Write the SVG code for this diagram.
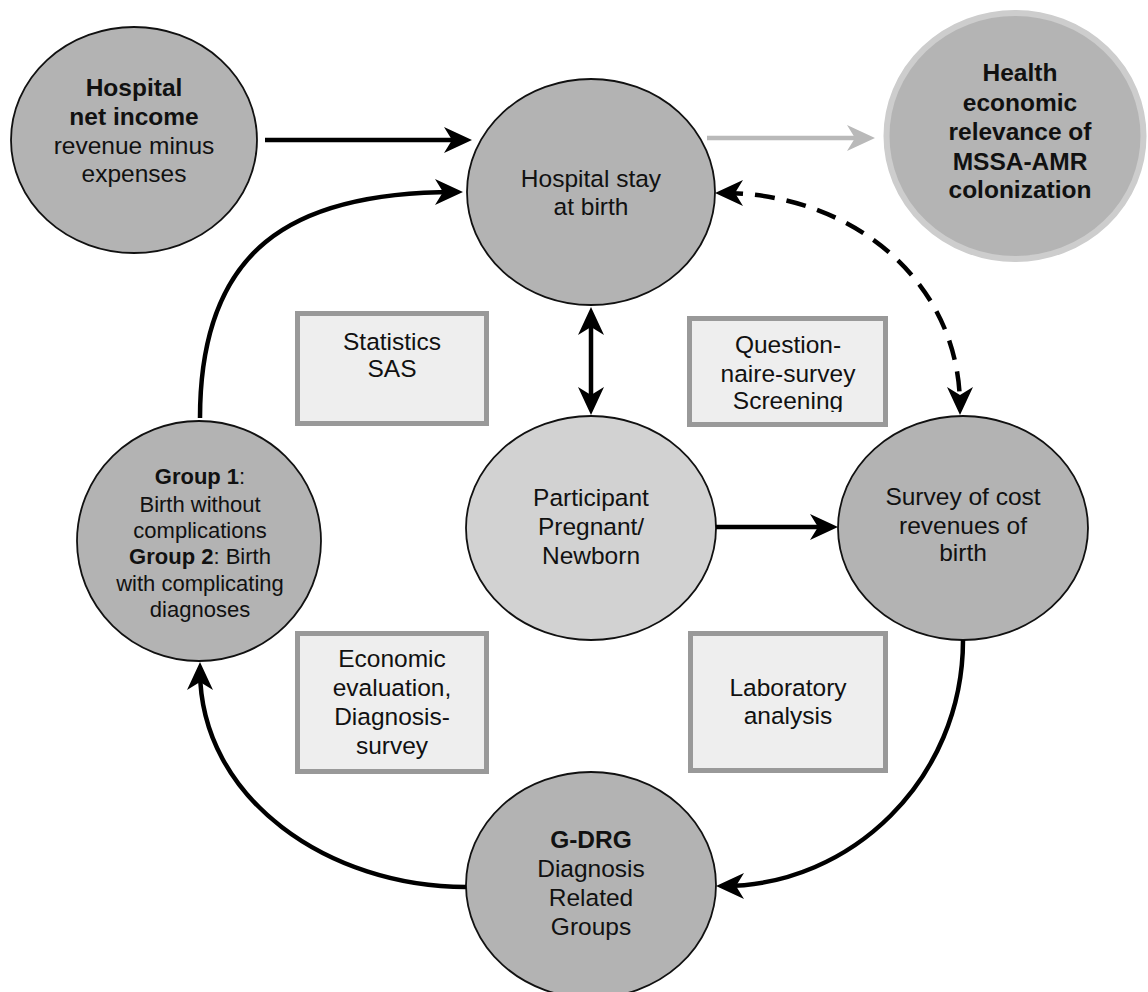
<svg xmlns="http://www.w3.org/2000/svg" width="1148" height="992" viewBox="0 0 1148 992">
  <style>
    .node { fill: #b3b3b3; stroke: #111; stroke-width: 1.8; }
    .light { fill: #d2d2d2; }
    .ring { fill: #b4b4b4; stroke: #cdcdcd; stroke-width: 6; }
    .box { fill: #eeeeee; stroke: #999999; stroke-width: 5; }
    text { font-family: "Liberation Sans", Arial, sans-serif; fill: #111; text-anchor: middle; }
    .t { font-size: 24.5px; }
    .s { font-size: 22px; }
    .b { font-weight: bold; }
    .link { fill: none; stroke: #000; stroke-width: 4.5; }
    .dash { stroke-dasharray: 20 12; }
    .grey { stroke: #b9b9b9; }
  </style>
  <defs>
    <marker id="ah" viewBox="0 0 28 28" refX="20" refY="14" markerWidth="28" markerHeight="28" markerUnits="userSpaceOnUse" orient="auto-start-reverse">
      <path d="M28,14 L0,1 L8,14 L0,27 Z" fill="#000"/>
    </marker>
    <marker id="ahGrey" viewBox="0 0 28 28" refX="20" refY="14" markerWidth="28" markerHeight="28" markerUnits="userSpaceOnUse" orient="auto">
      <path d="M28,14 L0,1 L8,14 L0,27 Z" fill="#b9b9b9"/>
    </marker>
    <clipPath id="qClip">
      <rect x="690" y="318" width="196" height="94"/>
    </clipPath>
  </defs>

  <!-- method boxes -->
  <g id="box-statistics">
    <rect class="box" x="297.5" y="313.5" width="189" height="110"/>
    <text class="t" x="392" y="350">Statistics</text>
    <text class="t" x="392" y="377">SAS</text>
  </g>
  <g id="box-questionnaire">
    <rect class="box" x="689.5" y="318.5" width="196" height="106"/>
    <g clip-path="url(#qClip)">
      <text class="t" x="788" y="353">Question-</text>
      <text class="t" x="788" y="382">naire-survey</text>
      <text class="t" x="788" y="409">Screening</text>
    </g>
  </g>
  <g id="box-economic">
    <rect class="box" x="297.5" y="633.5" width="189" height="138"/>
    <text class="t" x="392" y="667">Economic</text>
    <text class="t" x="392" y="696">evaluation,</text>
    <text class="t" x="392" y="725">Diagnosis-</text>
    <text class="t" x="392" y="754">survey</text>
  </g>
  <g id="box-laboratory">
    <rect class="box" x="690.5" y="633.5" width="195" height="137"/>
    <text class="t" x="788" y="696">Laboratory</text>
    <text class="t" x="788" y="724">analysis</text>
  </g>

  <!-- circular nodes -->
  <g id="node-net-income">
    <ellipse class="node" cx="134" cy="140" rx="123" ry="113"/>
    <text class="t b" x="134" y="96">Hospital</text>
    <text class="t b" x="134" y="125">net income</text>
    <text class="t" x="134" y="154">revenue minus</text>
    <text class="t" x="134" y="182">expenses</text>
  </g>
  <g id="node-hospital-stay">
    <ellipse class="node" cx="591" cy="192" rx="124" ry="113"/>
    <text class="t" x="591" y="187">Hospital stay</text>
    <text class="t" x="591" y="215">at birth</text>
  </g>
  <g id="node-health-economic">
    <ellipse class="ring" cx="1015" cy="136" rx="128.5" ry="123"/>
    <text class="t b" x="1020" y="81">Health</text>
    <text class="t b" x="1020" y="111">economic</text>
    <text class="t b" x="1020" y="140">relevance of</text>
    <text class="t b" x="1020" y="170">MSSA-AMR</text>
    <text class="t b" x="1020" y="198">colonization</text>
  </g>
  <g id="node-groups">
    <ellipse class="node" cx="199" cy="541" rx="122" ry="120"/>
    <text class="s" x="200" y="484"><tspan class="b">Group 1</tspan>:</text>
    <text class="s" x="200" y="512">Birth without</text>
    <text class="s" x="200" y="538">complications</text>
    <text class="s" x="200" y="564"><tspan class="b">Group 2</tspan>: Birth</text>
    <text class="s" x="200" y="591">with complicating</text>
    <text class="s" x="200" y="617">diagnoses</text>
  </g>
  <g id="node-participant">
    <ellipse class="node light" cx="591" cy="528" rx="125" ry="112"/>
    <text class="t" x="591" y="506">Participant</text>
    <text class="t" x="591" y="535">Pregnant/</text>
    <text class="t" x="591" y="564">Newborn</text>
  </g>
  <g id="node-survey">
    <ellipse class="node" cx="963" cy="528" rx="125" ry="112"/>
    <text class="t" x="963" y="505">Survey of cost</text>
    <text class="t" x="963" y="534">revenues of</text>
    <text class="t" x="963" y="561">birth</text>
  </g>
  <g id="node-gdrg">
    <ellipse class="node" cx="591" cy="885" rx="125" ry="113"/>
    <text class="t b" x="591" y="848">G-DRG</text>
    <text class="t" x="591" y="877">Diagnosis</text>
    <text class="t" x="591" y="906">Related</text>
    <text class="t" x="591" y="935">Groups</text>
  </g>

  <!-- connectors -->
  <g id="connectors">
    <path class="link" d="M265,140 L464,140" marker-end="url(#ah)"/>
    <path class="link grey" d="M707,138 L867,138" marker-end="url(#ahGrey)"/>
    <path class="link" d="M200,418 C200,250 290,192 455,192" marker-end="url(#ah)"/>
    <path class="link" d="M466,887 C330,887 200,800 200,670" marker-end="url(#ah)"/>
    <path class="link" d="M963,640 C963,780 850,886 724,886" marker-end="url(#ah)"/>
    <path class="link" d="M591,315 L591,407" marker-start="url(#ah)" marker-end="url(#ah)"/>
    <path class="link" d="M716,527 L830,527" marker-end="url(#ah)"/>
    <path class="link dash" d="M723,193 C850,193 960,280 960,407" marker-start="url(#ah)" marker-end="url(#ah)"/>
  </g>
</svg>
